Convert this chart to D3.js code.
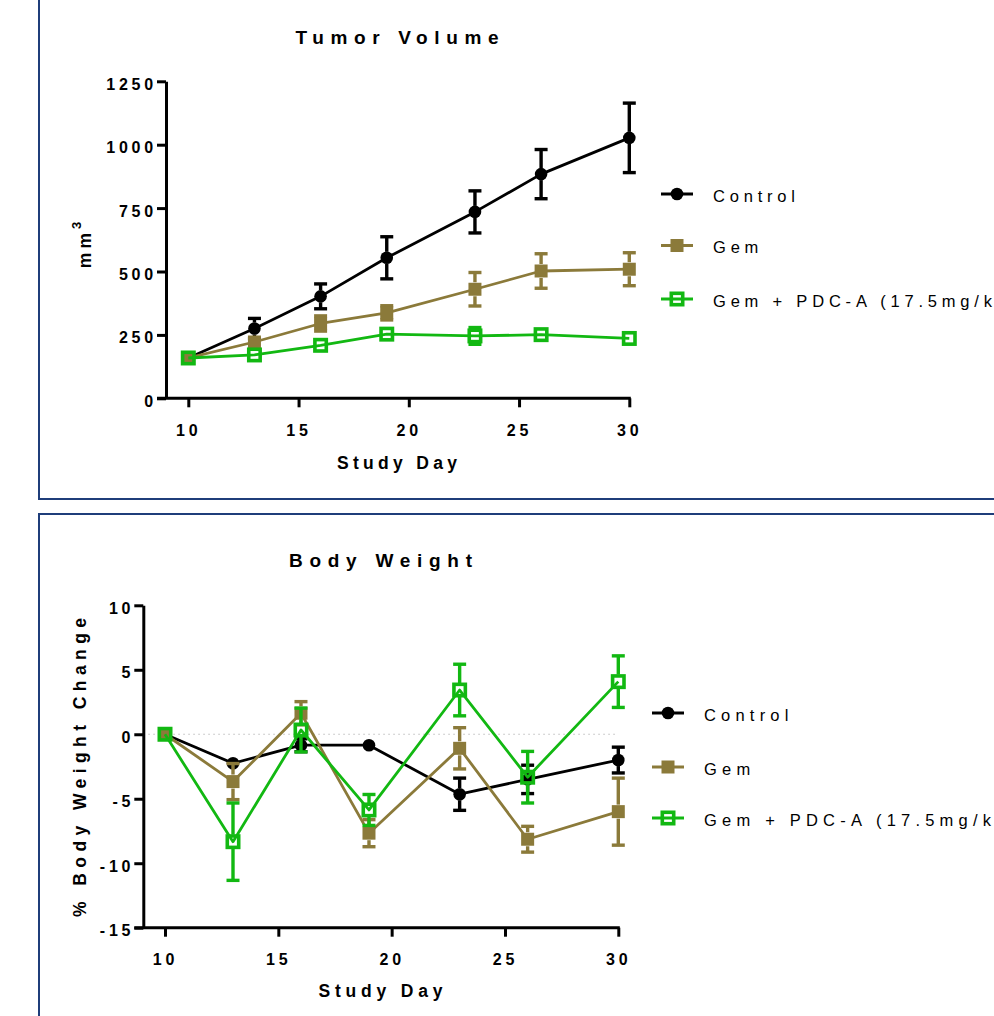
<!DOCTYPE html>
<html>
<head>
<meta charset="utf-8">
<script src="https://cdn.jsdelivr.net/npm/d3@7"></script>
<style>
html,body{margin:0;padding:0;background:#fff;overflow:hidden;}
svg{display:block;font-family:"Liberation Sans",Arial,sans-serif;}
</style>
</head>
<body>
<svg id="chart" width="994" height="1016"></svg>
<script>
// ---------- data ----------
const days = [10, 13, 16, 19, 23, 26, 30];
const seriesNames = ["Control", "Gem", "Gem + PDC-A (17.5mg/kg)"];

const tvControl    = [159, 275, 402, 554, 735, 884, 1027];
const tvControlErr = [0, 40, 49, 83, 83, 97, 137];
const tvGem        = [159, 222, 295, 337, 430, 502, 509];
const tvGemErr     = [0, 10, 30, 28, 66, 68, 65];
const tvPdc        = [159, 171, 209, 253, 246, 251, 236];
const tvPdcErr     = [0, 8, 10, 15, 33, 10, 8];

const bwControl    = [0, -2.25, -0.85, -0.85, -4.65, -3.5, -2.0];
const bwControlErr = [0, 0.3, 0.5, 0.3, 1.25, 1.1, 1.0];
const bwGem        = [0, -3.67, 1.63, -7.67, -1.09, -8.14, -6.0];
const bwGemErr     = [0, 1.4, 0.9, 1.05, 1.6, 1.0, 2.6];
const bwPdc        = [0, -8.33, 0.33, -5.87, 3.43, -3.33, 4.08];
const bwPdcErr     = [0, 3.0, 1.7, 1.2, 2.0, 2.0, 2.0];

const xTicks = [10, 15, 20, 25, 30];
const tvYTicks = [0, 250, 500, 750, 1000, 1250];
const bwYTicks = [-15, -10, -5, 0, 5, 10];

// ---------- styles ----------
const colors = ["#000000", "#8B7A3A", "#12B812"];
const shapes = ["circle", "square", "openSquare"];
const TICK_FS = 16, TICK_LS = 3.8;
const fmt = d => String(d);

const svg = d3.select("#chart");

// panel borders
svg.append("rect").attr("x", 39).attr("y", -10).attr("width", 1000).attr("height", 509)
  .attr("fill", "none").attr("stroke", "#1f3d7a").attr("stroke-width", 2);
svg.append("rect").attr("x", 39).attr("y", 514).attr("width", 1000).attr("height", 600)
  .attr("fill", "none").attr("stroke", "#1f3d7a").attr("stroke-width", 2);

function drawMarker(g, shape, color, cx, cy) {
  if (shape === "circle") {
    g.append("circle").attr("cx", cx).attr("cy", cy).attr("r", 6.3).attr("fill", color);
  } else if (shape === "square") {
    g.append("rect").attr("x", cx - 6.5).attr("y", cy - 6.5).attr("width", 13).attr("height", 13).attr("fill", color);
  } else {
    g.append("rect").attr("x", cx - 5.7).attr("y", cy - 5.7).attr("width", 11.4).attr("height", 11.4)
      .attr("fill", "none").attr("stroke", color).attr("stroke-width", 3.6);
  }
}

function drawChart(cfg) {
  const x = d3.scaleLinear().domain([10, 30]).range(cfg.xRange);
  const y = d3.scaleLinear().domain(cfg.yDomain).range(cfg.yRange);
  const axisX = cfg.axisX;
  const g = svg.append("g");

  if (cfg.zeroLine) {
    g.append("line").attr("x1", axisX).attr("x2", x(30)).attr("y1", y(0)).attr("y2", y(0))
      .attr("stroke", "#bdbdbd").attr("stroke-width", 1.2).attr("stroke-dasharray", "1.5,3.5");
  }

  // Y axis
  const yAxis = d3.axisLeft(y).tickValues(cfg.yTicks).tickFormat(fmt)
    .tickSize(9).tickSizeOuter(0).tickPadding(0);
  const ya = g.append("g").attr("transform", `translate(${axisX},0)`).call(yAxis);
  ya.select(".domain").attr("stroke", "#000").attr("stroke-width", 3);
  ya.selectAll(".tick line").attr("stroke", "#000").attr("stroke-width", 3);
  ya.selectAll(".tick text").attr("fill", "#000").attr("font-size", TICK_FS).attr("font-weight", "bold")
    .attr("letter-spacing", TICK_LS + "px").attr("dy", null).attr("y", 8)
    .style("font-family", "'Liberation Sans', Arial, sans-serif");

  // X axis
  const xAxis = d3.axisBottom(x).tickValues(xTicks).tickFormat(fmt).tickSize(9).tickSizeOuter(0);
  const xa = g.append("g").attr("transform", `translate(0,${y(cfg.yDomain[0])})`).call(xAxis);
  xa.select(".domain").remove();
  xa.append("line").attr("x1", axisX - 9).attr("x2", x(30) + 1.5).attr("y1", 0).attr("y2", 0)
    .attr("stroke", "#000").attr("stroke-width", 3);
  xa.selectAll(".tick line").attr("stroke", "#000").attr("stroke-width", 3);
  xa.selectAll(".tick text").attr("fill", "#000").attr("font-size", TICK_FS).attr("font-weight", "bold")
    .attr("letter-spacing", TICK_LS + "px").attr("dy", null).attr("y", 37.5)
    .style("font-family", "'Liberation Sans', Arial, sans-serif");

  // series
  cfg.series.forEach((vals, si) => {
    const errs = cfg.errors[si];
    const color = colors[si];
    const sg = g.append("g");
    const pts = days.map((d, i) => [x(d), y(vals[i])]);
    sg.append("path").attr("d", d3.line()(pts)).attr("fill", "none")
      .attr("stroke", color).attr("stroke-width", 2.8).attr("stroke-linejoin", "round");
    const half = shapes[si] === "circle" ? 6 : 7;
    days.forEach((d, i) => {
      const cx = x(d), cy = y(vals[i]);
      const yt = y(vals[i] + errs[i]), yb = y(vals[i] - errs[i]);
      if (cy - yt > half) {
        sg.append("line").attr("x1", cx).attr("x2", cx).attr("y1", yt).attr("y2", cy - half)
          .attr("stroke", color).attr("stroke-width", 3.4);
        sg.append("line").attr("x1", cx - 6.5).attr("x2", cx + 6.5).attr("y1", yt).attr("y2", yt)
          .attr("stroke", color).attr("stroke-width", 3.4);
      }
      if (yb - cy > half) {
        sg.append("line").attr("x1", cx).attr("x2", cx).attr("y1", cy + half).attr("y2", yb)
          .attr("stroke", color).attr("stroke-width", 3.4);
        sg.append("line").attr("x1", cx - 6.5).attr("x2", cx + 6.5).attr("y1", yb).attr("y2", yb)
          .attr("stroke", color).attr("stroke-width", 3.4);
      }
      drawMarker(sg, shapes[si], color, cx, cy);
    });
  });

  // title
  g.append("text").attr("x", cfg.titleX).attr("y", cfg.titleY).attr("text-anchor", "middle")
    .attr("font-size", 19).attr("font-weight", "bold")
    .attr("textLength", cfg.titleLen).attr("lengthAdjust", "spacing").text(cfg.title);

  // x label
  g.append("text").attr("x", cfg.titleX).attr("y", cfg.xLabelY).attr("text-anchor", "middle")
    .attr("font-size", 17.5).attr("font-weight", "bold")
    .attr("textLength", cfg.xLabelLen).attr("lengthAdjust", "spacing").text("Study Day");

  // y label
  const yl = g.append("text")
    .attr("transform", `translate(${cfg.yLabelX},${cfg.yLabelY}) rotate(-90)`)
    .attr("text-anchor", "middle").attr("font-size", 17.5).attr("font-weight", "bold");
  if (cfg.yLabelSup) {
    yl.attr("letter-spacing", "4px");
    yl.append("tspan").text(cfg.yLabel);
    yl.append("tspan").attr("font-size", 13).attr("dy", -10).text(cfg.yLabelSup);
  } else {
    yl.attr("textLength", cfg.yLabelLen).attr("lengthAdjust", "spacing").text(cfg.yLabel);
  }

  // legend
  seriesNames.forEach((name, si) => {
    const ly = cfg.legendY[si];
    const lg = g.append("g");
    lg.append("line").attr("x1", cfg.legendX).attr("x2", cfg.legendX + 32).attr("y1", ly).attr("y2", ly)
      .attr("stroke", colors[si]).attr("stroke-width", 3);
    drawMarker(lg, shapes[si], colors[si], cfg.legendX + 16, ly);
    lg.append("text").attr("x", cfg.legendX + 52).attr("y", ly + 7.5)
      .attr("font-size", 16.5).attr("letter-spacing", cfg.legendLS + "px").text(name);
  });
}

drawChart({
  xRange: [188.3, 629.3], yDomain: [0, 1250], yRange: [398.3, 81.3], axisX: 166,
  yTicks: tvYTicks,
  series: [tvControl, tvGem, tvPdc], errors: [tvControlErr, tvGemErr, tvPdcErr],
  title: "Tumor Volume", titleX: 397, titleY: 44, titleLen: 203,
  xLabelY: 469, xLabelLen: 120,
  yLabel: "mm", yLabelSup: "3", yLabelX: 91, yLabelY: 243,
  legendX: 661, legendY: [194, 245.5, 299], legendLS: 4.8,
  zeroLine: false
});

drawChart({
  xRange: [165, 618.3], yDomain: [-15, 10], yRange: [927.7, 605.3], axisX: 143.3,
  yTicks: bwYTicks,
  series: [bwControl, bwGem, bwPdc], errors: [bwControlErr, bwGemErr, bwPdcErr],
  title: "Body Weight", titleX: 380.5, titleY: 567, titleLen: 183,
  xLabelY: 997, xLabelLen: 124,
  yLabel: "% Body Weight Change", yLabelX: 86, yLabelY: 767.5, yLabelLen: 299,
  legendX: 652, legendY: [713, 767, 818], legendLS: 5.2,
  zeroLine: true
});
</script>
</body>
</html>
